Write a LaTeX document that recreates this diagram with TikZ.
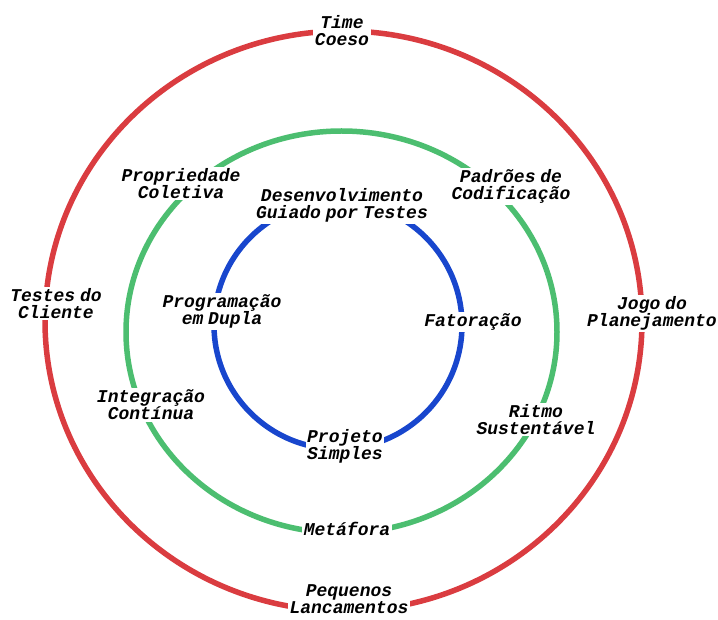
\documentclass[tikz,border=0pt]{standalone}
\usepackage{fontspec}
\newfontfamily\ringfont{Liberation Mono}[WordSpace=0.45]
\definecolor{RingRed}{RGB}{218,60,64}
\definecolor{RingGreen}{RGB}{76,190,112}
\definecolor{RingBlue}{RGB}{24,70,205}

\begin{document}
\begin{tikzpicture}[x=1pt,y=1pt,
 ring/.style={line width=5.5pt},
 practice/.style={fill=white,inner sep=1.5pt,align=center,
 font=\ringfont\bfseries\itshape\fontsize{18}{17}\selectfont}]
\useasboundingbox (0,0) rectangle (718,619);
% rings
\draw[ring,RingRed] (343.5,298) ellipse [x radius=298.5,y radius=290];
\draw[ring,RingGreen] (341.5,287) ellipse [x radius=215.5,y radius=201];
\draw[ring,RingBlue] (338,294) circle [radius=124];
% practices
\foreach \nm/\px/\py/\txt in {
 time/342/588/{Time\\Coeso},
 prop/181/435.5/{Propriedade\\Coletiva},
 padr/511/432.5/{Padrões de\\Codificação},
 tdd/342/413.5/{Desenvolvimento\\Guiado por Testes},
 testes/56/315.5/{Testes do\\Cliente},
 pares/222/307.5/{Programação\\em Dupla},
 fator/473/297/{Fatoração},
 jogo/652/305.5/{Jogo do\\Planejamento},
 integ/151/214/{Integração\\Contínua},
 ritmo/536/199.5/{Ritmo\\Sustentável},
 proj/345/172.5/{Projeto\\Simples},
 meta/347/90/{Metáfora},
 peq/349/19.5/{Pequenos\\Lancamentos}} {
 \node[practice] (\nm) at (\px,\py) {\txt};
}
\end{tikzpicture}
\end{document}
